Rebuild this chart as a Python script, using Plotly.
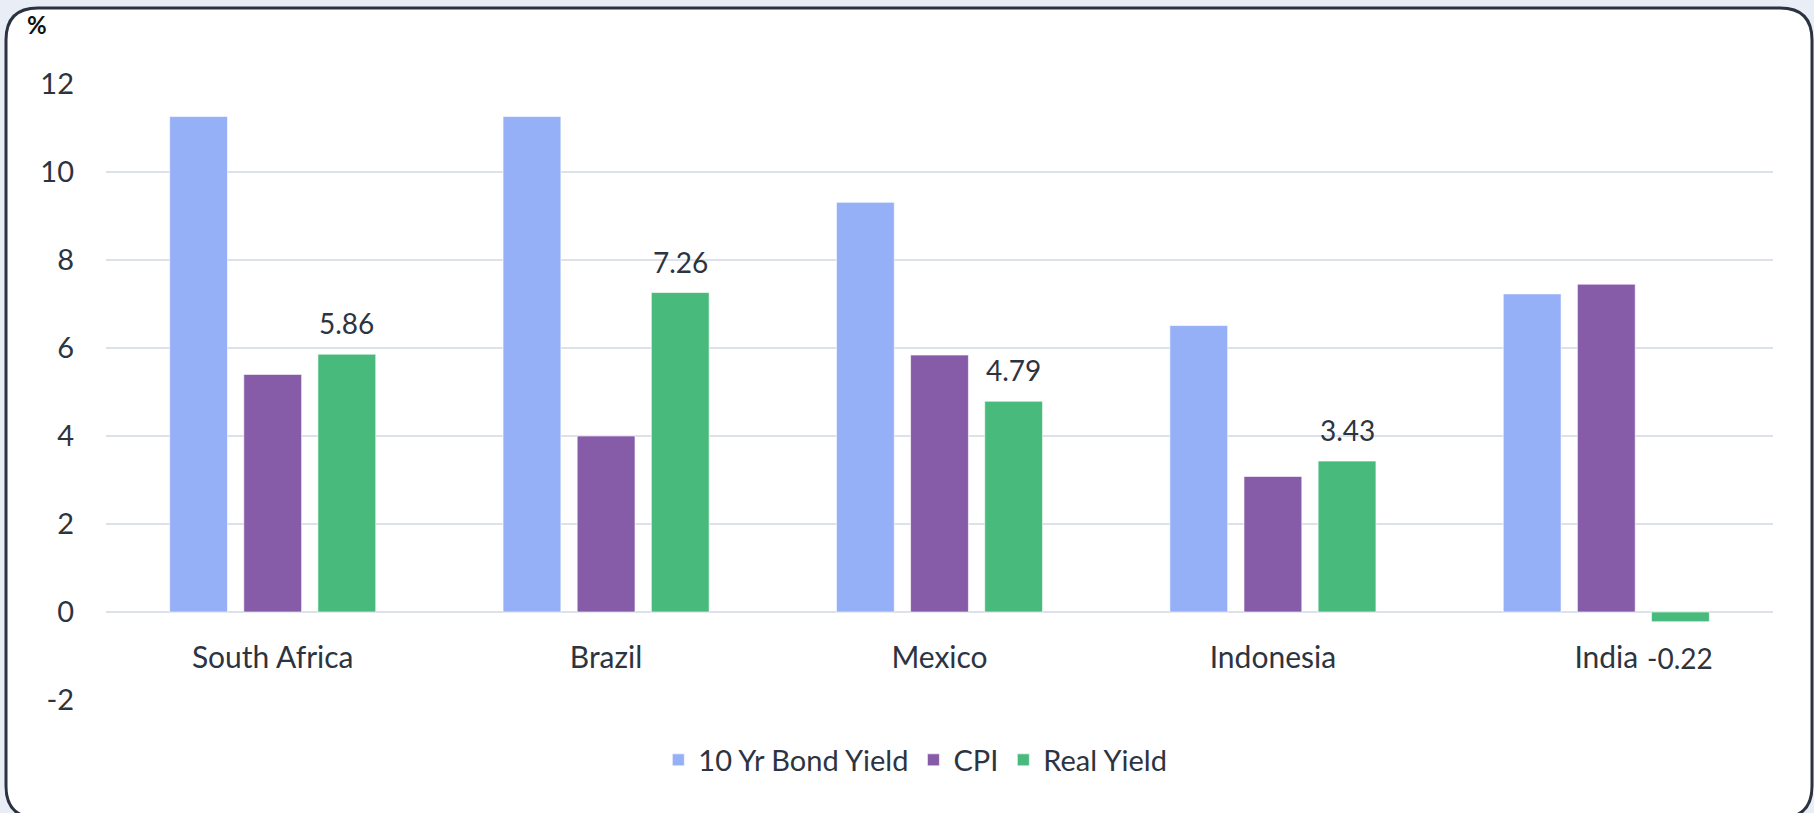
import plotly.graph_objects as go

# ---------------- data ----------------
countries = ["South Africa", "Brazil", "Mexico", "Indonesia", "India"]
bond_yield = [11.26, 11.26, 9.31, 6.51, 7.23]
cpi = [5.40, 4.00, 5.84, 3.08, 7.45]
real_yield = [5.86, 7.26, 4.79, 3.43, -0.22]
y_ticks = [-2, 0, 2, 4, 6, 8, 10, 12]
series_names = ["10 Yr Bond Yield", "CPI", "Real Yield"]

# ---------------- style ----------------
W, H = 1814, 813
ML, MR, MT, MB = 106, 41, 84, 113
PW, PH = W - ML - MR, H - MT - MB
FONT = "Lato"
TXT = "#2d3441"
GRID = "#dde2ea"
COLORS = ["#95b0f6", "#865ba8", "#48bb7c"]
BARGAP = 0.333
GROUPGAP = 0.22
YMIN, YMAX = -2, 12


def fx(px):
    return (px - ML) / PW


def fy(py):
    return (H - MB - py) / PH


fig = go.Figure()
for name, vals, col in zip(series_names, [bond_yield, cpi, real_yield], COLORS):
    fig.add_trace(go.Bar(
        x=countries, y=vals, name=name,
        marker=dict(color=col, line=dict(color="rgba(255,255,255,0.6)", width=1)),
        hoverinfo="x+y+name",
    ))

# value labels on Real Yield bars
slot = PW / len(countries) * (1 - BARGAP) / 3
for c, v in zip(countries, real_yield):
    fig.add_annotation(
        x=c, y=v, xref="x", yref="y", text=f"{v:.2f}", showarrow=False,
        xshift=slot, yshift=31 if v >= 0 else -36, yanchor="middle",
        font=dict(family=FONT, size=28, color=TXT),
    )

# "%" unit label
fig.add_annotation(
    x=fx(37), y=fy(24), xref="paper", yref="paper", text="<b>%</b>",
    showarrow=False, xanchor="center", yanchor="middle",
    font=dict(family=FONT, size=24, color="#111111"),
)

# rounded card
L, R, T, B = fx(6), fx(1812), fy(8), fy(818)
rx, ry = 32 / PW, 32 / PH
path = (
    f"M {L + rx},{T} L {R - rx},{T} Q {R},{T} {R},{T - ry} "
    f"L {R},{B + ry} Q {R},{B} {R - rx},{B} "
    f"L {L + rx},{B} Q {L},{B} {L},{B + ry} "
    f"L {L},{T - ry} Q {L},{T} {L + rx},{T} Z"
)
fig.add_shape(type="path", path=path, xref="paper", yref="paper",
              fillcolor="white", line=dict(color="#2b3240", width=3), layer="below")

fig.update_layout(
    width=W, height=H,
    margin=dict(l=ML, r=MR, t=MT, b=MB, pad=0),
    paper_bgcolor="#e9eef6",
    plot_bgcolor="rgba(0,0,0,0)",
    barmode="group", bargap=BARGAP, bargroupgap=GROUPGAP,
    font=dict(family=FONT, size=28, color=TXT),
    showlegend=True,
    legend=dict(orientation="h", x=0.4855, xanchor="center", y=fy(760), yanchor="middle",
                font=dict(family=FONT, size=29, color=TXT), bgcolor="rgba(0,0,0,0)",
                itemclick=False),
    xaxis=dict(
        anchor="free", position=(0 - YMIN) / (YMAX - YMIN),
        showgrid=False, showline=False, zeroline=False,
        ticks="", ticklabelstandoff=25,
        tickfont=dict(family=FONT, size=30, color=TXT),
    ),
    yaxis=dict(
        range=[YMIN, YMAX], tickvals=y_ticks, ticktext=[str(t) for t in y_ticks],
        showgrid=True, gridcolor=GRID, gridwidth=2,
        zeroline=True, zerolinecolor=GRID, zerolinewidth=2,
        showline=False, ticks="", ticklabelstandoff=31,
        tickfont=dict(family=FONT, size=29, color=TXT),
    ),
)

fig.write_html("out.html")
